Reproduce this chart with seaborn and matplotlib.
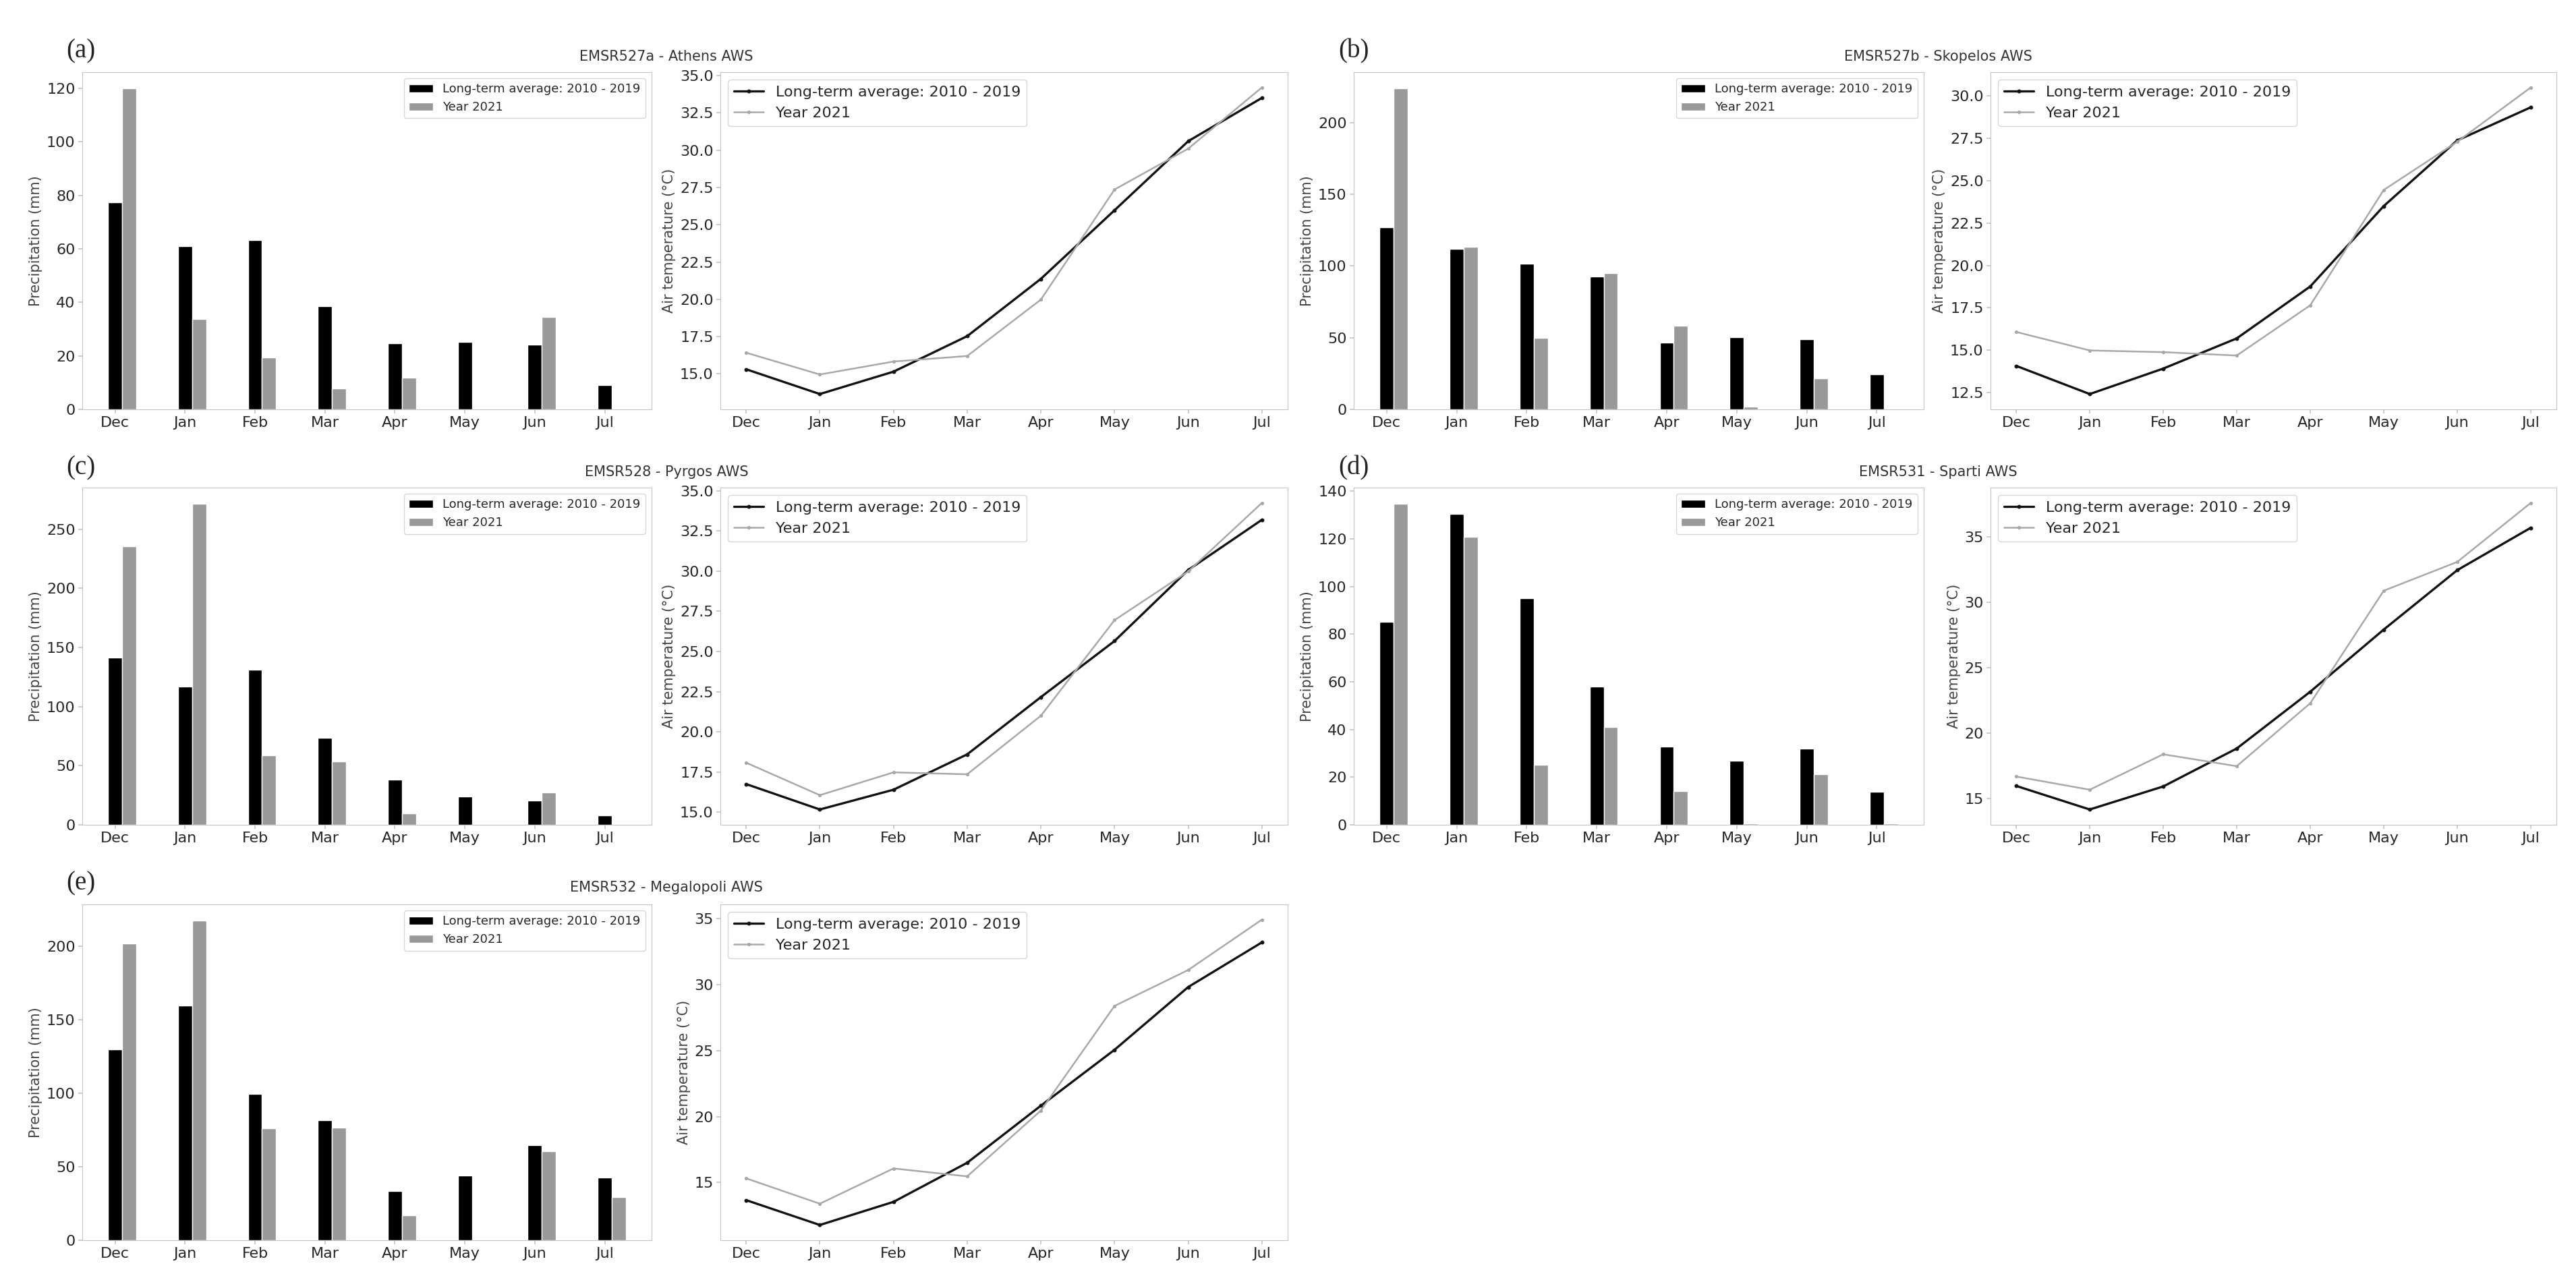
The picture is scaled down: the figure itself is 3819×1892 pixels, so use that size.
import numpy as np
import pandas as pd
import seaborn as sns
import matplotlib.pyplot as plt
from matplotlib.ticker import MultipleLocator

# months shown on every panel
months = ["Dec", "Jan", "Feb", "Mar", "Apr", "May", "Jun", "Jul"]

# (a) Athens
athens_precip_avg = [77.4, 61.0, 63.3, 38.6, 24.7, 25.2, 24.3, 9.0]
athens_precip_2021 = [120.0, 33.7, 19.3, 7.8, 11.8, 0.0, 34.5, 0.0]
athens_temp_avg = [15.31, 13.65, 15.15, 17.53, 21.37, 25.97, 30.6, 33.5]
athens_temp_2021 = [16.42, 14.96, 15.83, 16.2, 19.98, 27.36, 30.1, 34.2]

# (b) Skopelos
skopelos_precip_avg = [127.0, 111.8, 101.8, 92.6, 46.6, 50.4, 49.1, 24.5]
skopelos_precip_2021 = [224.0, 113.3, 49.9, 95.1, 58.1, 1.9, 21.7, 0.0]
skopelos_temp_avg = [14.08, 12.42, 13.92, 15.7, 18.76, 23.5, 27.37, 29.32]
skopelos_temp_2021 = [16.08, 14.99, 14.89, 14.69, 17.65, 24.45, 27.29, 30.49]

# (c) Pyrgos
pyrgos_precip_avg = [141.6, 117.0, 131.0, 73.5, 38.5, 23.8, 20.8, 7.9]
pyrgos_precip_2021 = [235.5, 271.7, 58.8, 53.6, 9.8, 0.0, 27.3, 0.0]
pyrgos_temp_avg = [16.75, 15.17, 16.4, 18.6, 22.16, 25.65, 30.07, 33.19]
pyrgos_temp_2021 = [18.08, 16.06, 17.48, 17.36, 21.0, 26.95, 29.98, 34.24]

# (d) Sparti
sparti_precip_avg = [85.1, 130.5, 95.0, 58.1, 32.7, 26.9, 32.1, 13.8]
sparti_precip_2021 = [134.8, 120.8, 25.1, 41.1, 14.1, 0.6, 21.3, 0.6]
sparti_temp_avg = [15.97, 14.17, 15.93, 18.83, 23.17, 27.92, 32.46, 35.7]
sparti_temp_2021 = [16.69, 15.68, 18.39, 17.48, 22.29, 30.89, 33.09, 37.6]

# (e) Megalopoli
megalopoli_precip_avg = [129.9, 159.7, 99.7, 81.9, 33.5, 44.1, 64.9, 42.8]
megalopoli_precip_2021 = [201.9, 217.8, 76.1, 76.5, 17.0, 0.0, 60.6, 29.6]
megalopoli_temp_avg = [13.67, 11.79, 13.54, 16.5, 20.82, 25.05, 29.8, 33.18]
megalopoli_temp_2021 = [15.32, 13.4, 16.07, 15.47, 20.45, 28.37, 31.09, 34.9]

titles = ["EMSR527a - Athens AWS", "EMSR527b - Skopelos AWS", "EMSR528 - Pyrgos AWS",
          "EMSR531 - Sparti AWS", "EMSR532 - Megalopoli AWS"]
panel_tags = ["(a)", "(b)", "(c)", "(d)", "(e)"]
lab_avg = "Long-term average: 2010 - 2019"
lab_2021 = "Year 2021"

stations = [
    (athens_precip_avg, athens_precip_2021, athens_temp_avg, athens_temp_2021, 20, 2.5),
    (skopelos_precip_avg, skopelos_precip_2021, skopelos_temp_avg, skopelos_temp_2021, 50, 2.5),
    (pyrgos_precip_avg, pyrgos_precip_2021, pyrgos_temp_avg, pyrgos_temp_2021, 50, 2.5),
    (sparti_precip_avg, sparti_precip_2021, sparti_temp_avg, sparti_temp_2021, 20, 5),
    (megalopoli_precip_avg, megalopoli_precip_2021, megalopoli_temp_avg, megalopoli_temp_2021, 50, 5),
]

sns.set_style("white", rc={
    "axes.edgecolor": "#c4c4c4",
    "axes.linewidth": 2.0,
    "xtick.bottom": True,
    "ytick.left": True,
    "xtick.major.size": 4,
    "ytick.major.size": 4,
})
plt.rcParams["font.family"] = ["DejaVu Sans"]

W, H = 3819, 1892
fig = plt.figure(figsize=(W / 100, H / 100), dpi=100)

rows = [(107, 607), (723, 1223), (1341, 1839)]
cols = [((122, 966), (1068, 1909)), ((2007, 2852), (2951, 3790))]
title_y = [84, 700, 1316]
tag_y = [76, 694, 1310]
title_x = [988, 2873]
tag_x = [120, 2007]


def px_rect(l, t, r, b):
    return [l / W, 1 - b / H, (r - l) / W, (b - t) / H]


def style_ticks(ax):
    ax.tick_params(labelsize=16, color="#c4c4c4", labelcolor="#262626", width=1.2, length=4)


for k, (p_avg, p_21, t_avg, t_21, p_step, t_step) in enumerate(stations):
    row, col = divmod(k, 2)
    top, bot = rows[row]
    (bl, br), (tl, tr) = cols[col]

    # precipitation bars
    ax1 = fig.add_axes(px_rect(bl, top, br, bot))
    x = np.arange(len(months))
    ax1.bar(x, p_avg, width=0.2, color="black", label=lab_avg)
    ax1.bar(x + 0.2, p_21, width=0.2, color="#999999", label=lab_2021)
    ax1.set_xticks(x)
    ax1.set_xticklabels(months)
    ax1.yaxis.set_major_locator(MultipleLocator(p_step))
    ax1.set_ylabel("Precipitation (mm)", fontsize=15, color="#444444")
    style_ticks(ax1)
    ax1.legend(loc="upper right", fontsize=13)

    # air temperature lines
    ax2 = fig.add_axes(px_rect(tl, top, tr, bot))
    df = pd.DataFrame({"month": months, "avg": t_avg, "y2021": t_21})
    sns.lineplot(data=df, x="month", y="avg", ax=ax2, color="#111111", lw=2.4,
                 marker=".", markersize=7, mec="#111111", sort=False, label=lab_avg)
    sns.lineplot(data=df, x="month", y="y2021", ax=ax2, color="#a8a8a8", lw=1.8,
                 marker=".", markersize=6, mec="#a8a8a8", sort=False, label=lab_2021)
    ax2.yaxis.set_major_locator(MultipleLocator(t_step))
    ax2.set_xlabel("")
    ax2.set_ylabel("Air temperature (°C)", fontsize=15, color="#444444")
    style_ticks(ax2)
    ax2.legend(loc="upper left", fontsize=16)

    fig.text(title_x[col] / W, 1 - title_y[row] / H, titles[k], ha="center", va="center",
             fontsize=15, color="#333333")
    fig.text(tag_x[col] / W, 1 - tag_y[row] / H, panel_tags[k], ha="center", va="center",
             fontsize=28, family=["Liberation Serif", "DejaVu Serif"], color="#222222")

fig.savefig("out.png", dpi=100, facecolor="white")
